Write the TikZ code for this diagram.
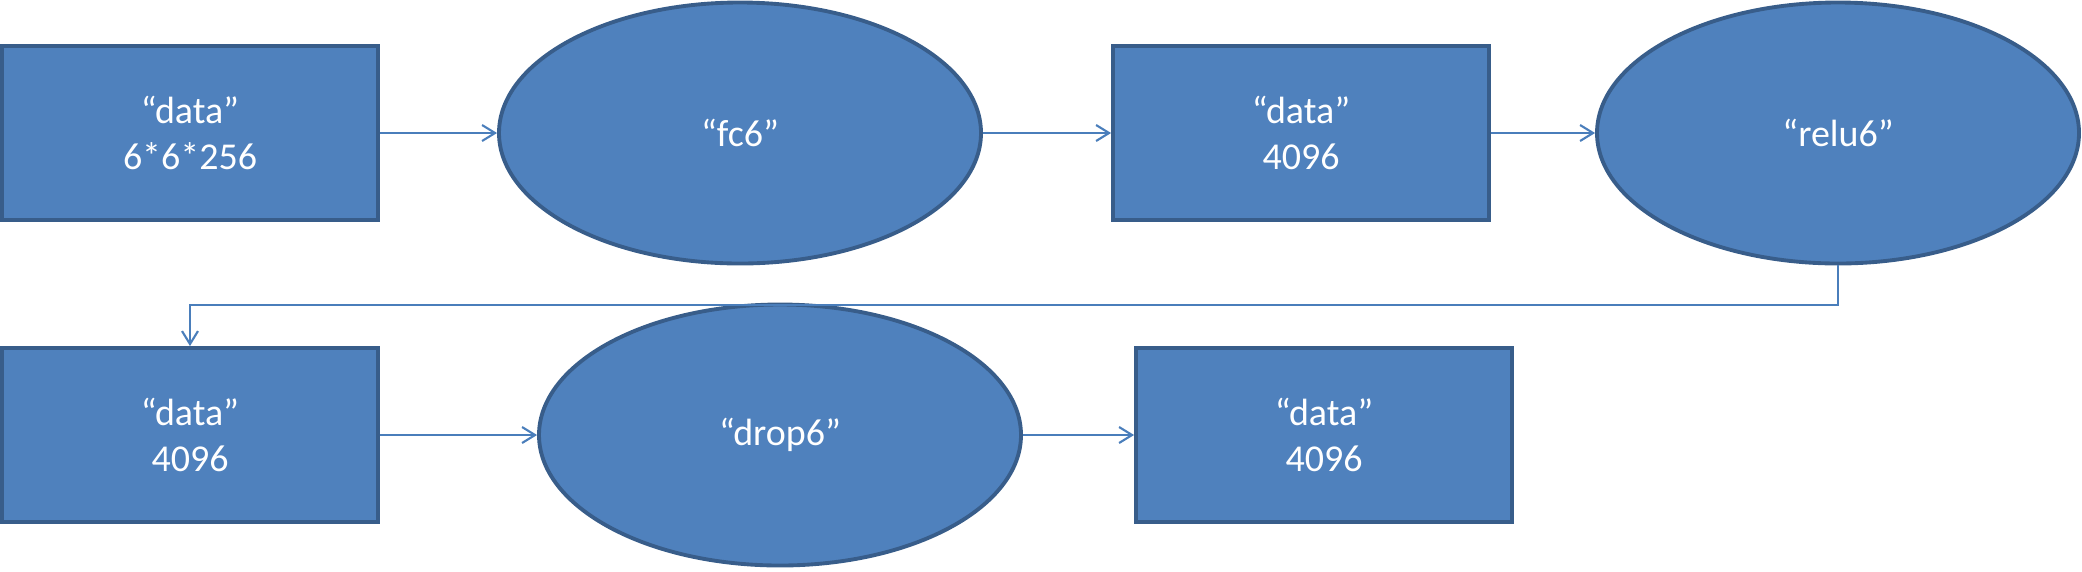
\documentclass[tikz,border=0pt]{standalone}
\usepackage{fontspec}
\setmainfont{Carlito}
\usetikzlibrary{arrows.meta, positioning, shapes.geometric}
\definecolor{cfill}{HTML}{4F81BD}
\definecolor{cedge}{HTML}{385D8A}
\definecolor{clink}{HTML}{4A7EBB}
\tikzset{
  every picture/.style={font=\fontsize{10.8}{13.2}\selectfont},
  blob/.style={draw=cedge, fill=cfill, text=white, line width=1.1pt, align=center, inner sep=0pt},
  datab/.style={blob, rectangle, minimum width=3.76cm, minimum height=1.74cm},
  layer/.style={blob, ellipse, minimum width=4.82cm, minimum height=2.61cm},
  arrow/.style={-{Straight Barb[length=1.3mm, width=1.6mm]}, draw=clink, line width=0.6pt},
}

\begin{document}
\begin{tikzpicture}
  \useasboundingbox (0,0) rectangle (20.82,-5.71);
  \node[datab] (d1) at (1.90,-1.33) {“data”\\6*6*256};
  \node[layer] (fc6) at (7.40,-1.33) {“fc6”};
  \node[datab] (d2) at (13.01,-1.33) {“data”\\4096};
  \node[layer] (relu6) at (18.38,-1.33) {“relu6”};
  \node[datab] (d3) at (1.90,-4.35) {“data”\\4096};
  \node[layer] (drop6) at (7.80,-4.35) {“drop6”};
  \node[datab] (d4) at (13.24,-4.35) {“data”\\4096};
  \foreach \a/\b in {d1/fc6, fc6/d2, d2/relu6, d3/drop6, drop6/d4} \draw[arrow] (\a) -- (\b);
  \draw[arrow] (relu6.south) -- ++(0,-0.40) -| (d3.north);
\end{tikzpicture}
\end{document}
